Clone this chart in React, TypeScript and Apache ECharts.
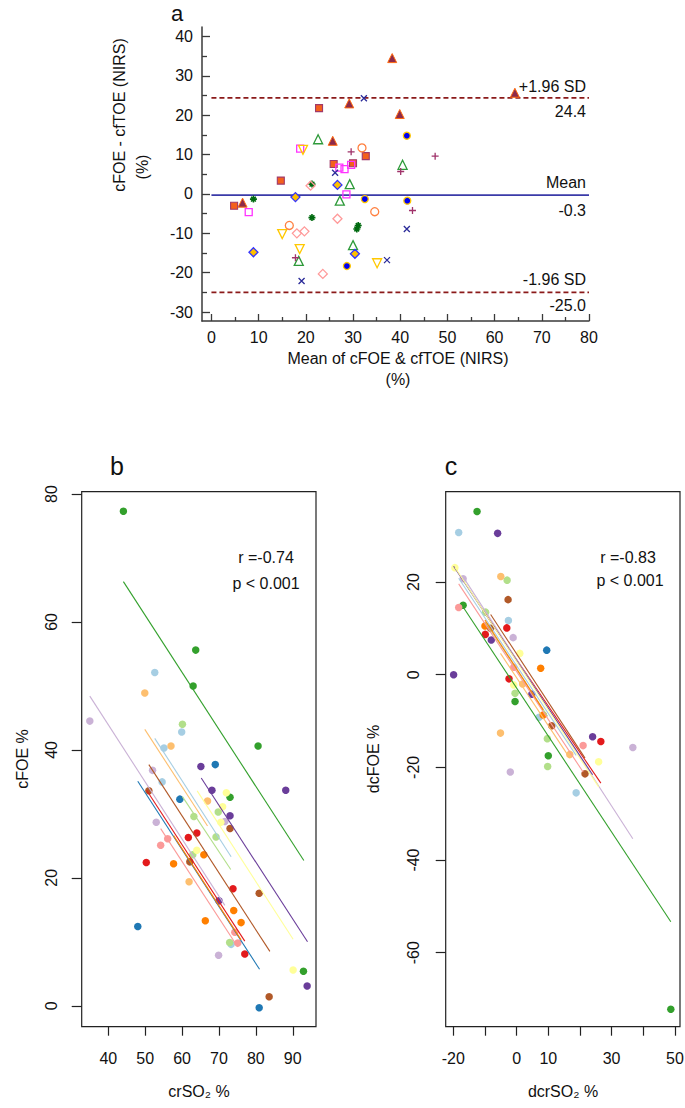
import React, { useEffect, useRef } from 'react';
import * as echarts from 'echarts';

const FONT = '"Liberation Sans", Arial, Helvetica, sans-serif';

// ---------- Panel a: Bland-Altman ----------
const aXTicks = [0, 10, 20, 30, 40, 50, 60, 70, 80];
const aXMinor = [5, 15, 25, 35, 45, 55, 65, 75];
const aYTicks = [-30, -20, -10, 0, 10, 20, 30, 40];
const aYMinor = [-25, -15, -5, 5, 15, 25, 35];
const aMean = -0.3;
const aUpper = 24.4;
const aLower = -25.0;

const aOrangeSquare = [[22.8, 21.8], [32.7, 9.6], [25.9, 7.6], [30.0, 7.8], [14.7, 3.4], [4.8, -3.0]];
const aFilledTriangle = [[38.3, 34.5], [29.2, 23.0], [39.9, 20.3], [25.7, 13.5], [6.6, -2.2], [64.3, 25.7]];
const aMagentaSquare = [[18.8, 11.5], [27.1, 6.7], [28.2, 6.3], [29.6, 7.4], [7.9, -4.6], [28.6, -0.1]];
const aYellowDownTri = [[19.4, 11.2], [15.0, -10.2], [18.7, -14.0], [35.1, -17.6]];
const aOrangeCircle = [[31.9, 11.7], [34.6, -4.5], [16.5, -8.0]];
const aGreenTriangle = [[22.6, 13.9], [40.5, 7.4], [29.3, 2.5], [27.2, -1.7], [30.0, -13.0], [18.5, -17.0]];
const aGreenStar = [[8.9, -1.3], [21.3, 2.5], [21.3, -6.0], [31.1, -8.0], [30.8, -8.9]];
const aBlueDiamond = [[17.8, -0.8], [26.7, 2.3], [30.4, -15.2], [8.9, -14.8]];
const aPinkDiamond = [[21.0, 2.1], [18.1, -10.0], [19.7, -9.5], [26.7, -6.3], [23.6, -20.3]];
const aBlueCircle = [[41.4, 14.8], [32.5, -1.3], [41.5, -1.7], [28.7, -18.3]];
const aBlueX = [[32.3, 24.3], [26.2, 5.4], [41.4, -8.9], [19.1, -22.1], [37.2, -16.8]];
const aPlus = [[29.6, 10.7], [47.4, 9.6], [40.1, 5.7], [42.6, -4.2], [17.8, -16.2]];

// ---------- Panels b & c ----------
const PAIRED = ['#A6CEE3', '#1F78B4', '#B2DF8A', '#33A02C', '#FB9A99', '#E31A1C',
  '#FDBF6F', '#FF7F00', '#CAB2D6', '#6A3D9A', '#FFFF99', '#B15928'];

const bXTicks = [40, 50, 60, 70, 80, 90];
const bYTicks = [0, 20, 40, 60, 80];
const bPoints = [
  [[52.6, 52.1], [59.9, 42.8], [55.1, 40.3], [54.6, 35.0], [73.3, 9.6]],
  [[69.0, 37.7], [59.4, 32.3], [48.0, 12.4], [80.9, -0.3]],
  [[60.1, 44.0], [69.8, 30.3], [63.2, 29.6], [69.2, 26.4], [62.9, 23.6], [72.9, 9.9]],
  [[44.1, 77.3], [63.7, 55.6], [63.0, 50.0], [80.6, 40.6], [73.0, 32.6], [92.9, 5.4]],
  [[56.1, 26.1], [54.2, 25.1], [74.3, 11.5], [75.1, 9.8]],
  [[61.7, 26.3], [64.0, 27.0], [50.3, 22.4], [73.8, 18.3], [77.0, 8.1]],
  [[49.9, 48.9], [57.0, 40.6], [66.9, 32.0], [61.9, 19.4]],
  [[65.9, 23.6], [57.7, 22.2], [74.0, 14.9], [66.3, 13.3], [76.0, 13.0]],
  [[35.0, 44.5], [52.0, 36.8], [53.0, 28.7], [71.6, 28.8], [69.9, 7.9]],
  [[65.1, 37.4], [68.1, 33.7], [88.1, 33.7], [73.0, 29.7], [70.0, 16.4], [93.9, 3.1]],
  [[72.0, 33.3], [71.0, 31.1], [70.5, 28.7], [64.0, 24.3], [90.1, 5.6]],
  [[51.0, 33.6], [73.0, 27.7], [62.1, 22.5], [80.9, 17.6], [83.6, 1.4]],
];
const bLines = [
  [[52.6, 41.8], [73.3, 23.3]],
  [[48.0, 35.1], [81.0, 5.7]],
  [[60.1, 32.7], [73.2, 21.3]],
  [[44.1, 66.3], [93.0, 22.7]],
  [[54.2, 27.7], [75.1, 9.2]],
  [[50.4, 33.7], [77.0, 10.1]],
  [[49.9, 43.2], [66.9, 28.1]],
  [[57.7, 26.6], [76.0, 10.3]],
  [[35.0, 48.4], [71.6, 15.7]],
  [[65.2, 35.6], [94.0, 10.0]],
  [[64.1, 33.6], [90.1, 10.4]],
  [[51.0, 37.7], [83.8, 8.5]],
];

const cXTicks = [-20, -10, 0, 10, 20, 30, 40, 50];
const cXLabels = [-20, 0, 10, 30, 50];
const cYTicks = [-60, -40, -20, 0, 20];
const cPoints = [
  [[-18.3, 30.7], [-2.6, 11.7], [7.1, -9.2], [18.8, -25.5]],
  [[9.5, 5.3]],
  [[-3.0, 20.4], [-9.8, 13.5], [-0.5, -4.0], [9.7, -13.8], [9.8, -19.8]],
  [[-12.5, 35.2], [-16.9, 15.0], [-0.5, -5.8], [10.0, -17.5], [48.7, -72.2]],
  [[-18.3, 14.5], [-0.9, 1.6], [21.0, -15.3]],
  [[-3.1, 10.1], [-9.9, 8.7], [-2.4, -0.9], [26.6, -14.4]],
  [[-5.0, 21.2], [1.9, -2.0], [-5.1, -12.6], [16.8, -17.2]],
  [[-10.0, 10.5], [7.6, 1.4], [8.4, -8.7]],
  [[-16.9, 20.7], [-1.1, 8.0], [36.7, -15.7], [-2.0, -21.0]],
  [[-6.0, 30.5], [-8.0, 7.5], [-19.9, 0.0], [4.8, -4.2], [24.0, -13.4]],
  [[-19.5, 23.1], [1.0, 4.6], [-0.9, -2.2], [25.9, -18.8]],
  [[-2.7, 16.2], [-8.2, 10.0], [11.1, -11.0], [21.6, -21.4]],
];
const cLines = [
  [[-18.3, 20.8], [18.8, -17.4]],
  null,
  [[-9.8, 11.3], [9.8, -9.0]],
  [[-16.9, 14.6], [48.7, -53.3]],
  [[-18.3, 19.6], [21.0, -21.0]],
  [[-9.9, 13.2], [26.6, -23.4]],
  [[-5.1, 4.6], [16.8, -18.0]],
  [[-10.0, 11.8], [8.4, -7.6]],
  [[-16.9, 21.1], [36.7, -35.4]],
  [[-19.9, 23.4], [24.0, -21.6]],
  [[-19.5, 23.2], [25.9, -24.2]],
  [[-8.2, 13.0], [21.6, -18.0]],
];

const SYM_X = 'path://M0,0L10,10M10,0L0,10';
const SYM_PLUS = 'path://M5,0L5,10M0,5L10,5';
const SYM_STAR = 'path://M5,0L5,10M0,5L10,5M1.6,1.6L8.4,8.4M8.4,1.6L1.6,8.4';

function aSeries(data: number[][], symbol: string, size: number, fill: string, stroke: string, bw = 1.2, rotate = 0) {
  return {
    type: 'scatter', xAxisIndex: 0, yAxisIndex: 0, data, symbol, symbolSize: size,
    symbolRotate: rotate, z: 4,
    itemStyle: { color: fill, borderColor: stroke, borderWidth: bw, opacity: 1 },
  };
}

function hLine(y: number, color: string, dashed: boolean) {
  return {
    type: 'line', xAxisIndex: 0, yAxisIndex: 0, data: [[0, y], [80, y]], symbol: 'none', z: 3,
    lineStyle: { color, width: 1.6, type: dashed ? [5, 3] : 'solid' },
  };
}

function buildOption() {
  const txt = (text: string, x: number, y: number, opts: any = {}) => ({
    type: 'text', x, y, rotation: opts.rotation || 0, z: 10,
    style: {
      text, fontFamily: FONT, fontSize: opts.size || 16, fill: opts.color || '#111',
      textAlign: opts.align || 'center', textVerticalAlign: 'middle', fontWeight: opts.weight || 'normal',
    },
  });

  const axisText = { fontFamily: FONT, fontSize: 16, color: '#111' };
  const series: any[] = [];

  series.push(hLine(aUpper, '#8B1A1A', true));
  series.push(hLine(aLower, '#8B1A1A', true));
  series.push(hLine(aMean, '#3A3AA8', false));
  series.push(aSeries(aOrangeSquare, 'rect', 7, '#F4601C', '#A03A6A', 1.1));
  series.push(aSeries(aFilledTriangle, 'triangle', 9, '#8E2A4A', '#FF6A10', 1.0));
  series.push(aSeries(aMagentaSquare, 'rect', 7, 'rgba(0,0,0,0)', '#FF33FF', 1.3));
  series.push(aSeries(aYellowDownTri, 'triangle', 9, 'rgba(0,0,0,0)', '#FFC800', 1.3, 180));
  series.push(aSeries(aOrangeCircle, 'circle', 8, 'rgba(0,0,0,0)', '#FF8040', 1.3));
  series.push(aSeries(aGreenTriangle, 'triangle', 9, 'rgba(0,0,0,0)', '#2E9A3A', 1.3));
  series.push(aSeries(aGreenStar, SYM_STAR, 7, 'rgba(0,0,0,0)', '#006A10', 1.6));
  series.push(aSeries(aBlueDiamond, 'diamond', 9, '#FFC000', '#3333FF', 1.3));
  series.push(aSeries(aPinkDiamond, 'diamond', 9, 'rgba(0,0,0,0)', '#FF9A9A', 1.3));
  series.push(aSeries(aBlueCircle, 'circle', 7, '#0000F0', '#FFC800', 1.3));
  series.push(aSeries(aBlueX, SYM_X, 6, 'rgba(0,0,0,0)', '#2B2B99', 1.3));
  series.push(aSeries(aPlus, SYM_PLUS, 7, 'rgba(0,0,0,0)', '#A0336A', 1.3));

  bPoints.forEach((pts, i) => {
    series.push({
      type: 'scatter', xAxisIndex: 4, yAxisIndex: 4, data: pts, symbol: 'circle', symbolSize: 7.5, z: 2,
      itemStyle: { color: PAIRED[i], opacity: 1 },
    });
  });
  bLines.forEach((ln, i) => {
    series.push({
      type: 'line', xAxisIndex: 4, yAxisIndex: 4, data: ln, symbol: 'none', z: 3,
      lineStyle: { color: PAIRED[i], width: 1.1 },
    });
  });
  cPoints.forEach((pts, i) => {
    series.push({
      type: 'scatter', xAxisIndex: 5, yAxisIndex: 5, data: pts, symbol: 'circle', symbolSize: 7.5, z: 2,
      itemStyle: { color: PAIRED[i], opacity: 1 },
    });
  });
  cLines.forEach((ln, i) => {
    if (!ln) return;
    series.push({
      type: 'line', xAxisIndex: 5, yAxisIndex: 5, data: ln, symbol: 'none', z: 3,
      lineStyle: { color: PAIRED[i], width: 1.1 },
    });
  });

  const noLine = { show: false, onZero: false };
  const aAxisLine = { show: true, onZero: false, lineStyle: { color: '#3a3a3a', width: 1.5 } };

  return {
    animation: false,
    backgroundColor: '#ffffff',
    textStyle: { fontFamily: FONT },
    grid: [
      { left: 202, top: 27, width: 387, height: 294, containLabel: false, outerBoundsMode: 'none' },
      { left: 81.7, top: 491.7, width: 234.3, height: 535, show: true, borderColor: '#222', borderWidth: 1.2, backgroundColor: 'transparent', containLabel: false, outerBoundsMode: 'none' },
      { left: 445.7, top: 491.7, width: 234.3, height: 535, show: true, borderColor: '#222', borderWidth: 1.2, backgroundColor: 'transparent', containLabel: false, outerBoundsMode: 'none' },
    ],
    xAxis: [
      { type: 'value', gridIndex: 0, position: 'bottom', min: -2, max: 80, axisLine: aAxisLine,
        axisTick: { show: true, inside: true, length: 7, customValues: aXTicks, lineStyle: { color: '#3a3a3a', width: 1.3 } },
        axisLabel: { show: true, customValues: aXTicks, margin: 8, ...axisText }, splitLine: { show: false } },
      { type: 'value', gridIndex: 0, position: 'bottom', min: -2, max: 80, axisLine: noLine,
        axisTick: { show: true, inside: true, length: 4, customValues: aXMinor, lineStyle: { color: '#3a3a3a', width: 1.3 } },
        axisLabel: { show: false }, splitLine: { show: false } },
      { type: 'value', gridIndex: 1, position: 'bottom', min: 32.8, max: 96.3, axisLine: noLine,
        axisTick: { show: false }, axisLabel: { show: false }, splitLine: { show: false } },
      { type: 'value', gridIndex: 2, position: 'bottom', min: -22.4, max: 51.6, axisLine: noLine,
        axisTick: { show: false }, axisLabel: { show: false }, splitLine: { show: false } },
      { type: 'value', gridIndex: 1, position: 'bottom', min: 32.8, max: 96.3, axisLine: noLine,
        axisTick: { show: true, inside: false, length: 9, customValues: bXTicks, lineStyle: { color: '#222', width: 1.2 } },
        axisLabel: { show: true, customValues: bXTicks, margin: 24, ...axisText }, splitLine: { show: false } },
      { type: 'value', gridIndex: 2, position: 'bottom', min: -22.4, max: 51.6, axisLine: noLine,
        axisTick: { show: true, inside: false, length: 9, customValues: cXTicks, lineStyle: { color: '#222', width: 1.2 } },
        axisLabel: { show: true, customValues: cXLabels, margin: 24, ...axisText }, splitLine: { show: false } },
    ],
    yAxis: [
      { type: 'value', gridIndex: 0, position: 'left', min: -32.26, max: 42.4, axisLine: aAxisLine,
        axisTick: { show: true, inside: true, length: 8, customValues: aYTicks, lineStyle: { color: '#3a3a3a', width: 1.3 } },
        axisLabel: { show: true, customValues: aYTicks, margin: 9, ...axisText }, splitLine: { show: false } },
      { type: 'value', gridIndex: 0, position: 'left', min: -32.26, max: 42.4, axisLine: noLine,
        axisTick: { show: true, inside: true, length: 5, customValues: aYMinor, lineStyle: { color: '#3a3a3a', width: 1.3 } },
        axisLabel: { show: false }, splitLine: { show: false } },
      { type: 'value', gridIndex: 1, position: 'left', min: -3.27, max: 80.36, axisLine: noLine,
        axisTick: { show: false }, axisLabel: { show: false }, splitLine: { show: false } },
      { type: 'value', gridIndex: 2, position: 'left', min: -75.96, max: 39.49, axisLine: noLine,
        axisTick: { show: false }, axisLabel: { show: false }, splitLine: { show: false } },
      { type: 'value', gridIndex: 1, position: 'left', min: -3.27, max: 80.36, axisLine: noLine,
        axisTick: { show: true, inside: false, length: 10, customValues: bYTicks, lineStyle: { color: '#222', width: 1.2 } },
        axisLabel: { show: true, customValues: bYTicks, margin: 22, rotate: 90, ...axisText }, splitLine: { show: false } },
      { type: 'value', gridIndex: 2, position: 'left', min: -75.96, max: 39.49, axisLine: noLine,
        axisTick: { show: true, inside: false, length: 10, customValues: cYTicks, lineStyle: { color: '#222', width: 1.2 } },
        axisLabel: { show: true, customValues: cYTicks, margin: 24, rotate: 90, ...axisText }, splitLine: { show: false } },
    ],
    series,
    graphic: [
      txt('a', 177, 13, { size: 22 }),
      txt('b', 117, 466, { size: 25 }),
      txt('c', 451, 466, { size: 25 }),
      txt('cFOE - cfTOE (NIRS)', 119, 115, { rotation: Math.PI / 2 }),
      txt('(%)', 142, 167, { rotation: Math.PI / 2 }),
      txt('Mean of cFOE & cfTOE (NIRS)', 398, 358),
      txt('(%)', 398, 379),
      txt('+1.96 SD', 586, 86, { align: 'right' }),
      txt(aUpper.toFixed(1), 586, 111.5, { align: 'right' }),
      txt('Mean', 586, 182.5, { align: 'right' }),
      txt(aMean.toFixed(1), 586, 210, { align: 'right' }),
      txt('-1.96 SD', 586, 279.5, { align: 'right' }),
      txt(aLower.toFixed(1), 586, 305, { align: 'right' }),
      txt('r =-0.74', 266, 557),
      txt('p < 0.001', 266, 583),
      txt('r =-0.83', 628, 557),
      txt('p < 0.001', 630, 580),
      txt('cFOE %', 22, 759, { rotation: Math.PI / 2 }),
      txt('dcFOE %', 373, 759, { rotation: Math.PI / 2 }),
      txt('crSO₂ %', 199, 1091),
      txt('dcrSO₂ %', 563, 1091),
    ],
  };
}

export default function App() {
  const ref = useRef<HTMLDivElement>(null);
  useEffect(() => {
    if (!ref.current) return;
    const chart = echarts.init(ref.current, null, { renderer: 'svg' });
    chart.setOption(buildOption() as any);
    return () => chart.dispose();
  }, []);
  return (
    <div
      ref={ref}
      style={{ position: 'absolute', left: 0, top: 0, width: 685, height: 1108, background: '#fff' }}
    />
  );
}
